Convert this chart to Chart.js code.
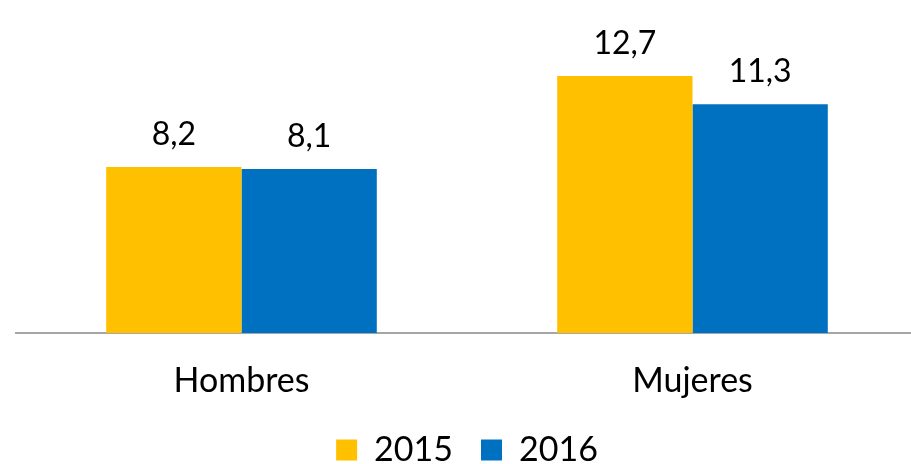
<!DOCTYPE html>
<html>
<head>
<meta charset="utf-8">
<script src="https://cdn.jsdelivr.net/npm/chart.js@4.4.0/dist/chart.umd.min.js"></script>
<style>
  html, body { margin: 0; padding: 0; background: #fff; overflow: hidden; }
  /* canvas a bit bigger than the window: right and bottom edges get cut off like in the original */
  #wrap { width: 918px; height: 477px; position: relative; }
</style>
</head>
<body>
<div id="wrap"><canvas id="myChart"></canvas></div>
<script>
// chart data
const categories = ['Hombres', 'Mujeres'];
const years = ['2015', '2016'];
const values2015 = [8.2, 12.7];
const values2016 = [8.1, 11.3];
const yMax = 16.45;

const fontName = 'Lato, "Open Sans", sans-serif';

// draws "8,2" style labels above each bar
const valueLabels = {
  id: 'valueLabels',
  afterDatasetsDraw(chart) {
    const ctx = chart.ctx;
    ctx.save();
    ctx.font = '32px ' + fontName;
    ctx.fillStyle = '#000';
    ctx.textAlign = 'center';
    ctx.textBaseline = 'alphabetic';
    chart.data.datasets.forEach((ds, i) => {
      chart.getDatasetMeta(i).data.forEach((bar, j) => {
        const txt = ds.data[j].toFixed(1).replace('.', ',');
        ctx.fillText(txt, bar.x, bar.y - 22);
      });
    });
    ctx.restore();
  }
};

const myChartRef = document.getElementById('myChart').getContext('2d');
const myChart = new Chart(myChartRef, {
  type: 'bar',
  data: {
    labels: categories,
    datasets: [
      {
        label: years[0],
        data: values2015,
        backgroundColor: '#FFC000',
        borderWidth: 0
      },
      {
        label: years[1],
        data: values2016,
        backgroundColor: '#0070C0',
        borderWidth: 0
      }
    ]
  },
  options: {
    responsive: true,
    maintainAspectRatio: false,
    animation: false,
    layout: { padding: { left: 16, right: 0, top: 0, bottom: 0 } },
    datasets: {
      bar: { categoryPercentage: 0.6, barPercentage: 1.0 }
    },
    scales: {
      x: {
        grid: { display: false },
        border: { display: true, color: '#A6A6A6', width: 2 },
        ticks: {
          color: '#000',
          padding: 20,
          font: { family: fontName, size: 34 }
        },
        afterFit(scale) {
          scale.height = 72;
        }
      },
      y: {
        display: false,
        min: 0,
        max: yMax
      }
    },
    plugins: {
      legend: {
        position: 'bottom',
        labels: {
          boxWidth: 21,
          boxHeight: 21,
          padding: 28,
          color: '#000',
          font: { family: fontName, size: 34 }
        }
      },
      tooltip: { enabled: false }
    }
  },
  plugins: [valueLabels]
});
</script>
</body>
</html>
